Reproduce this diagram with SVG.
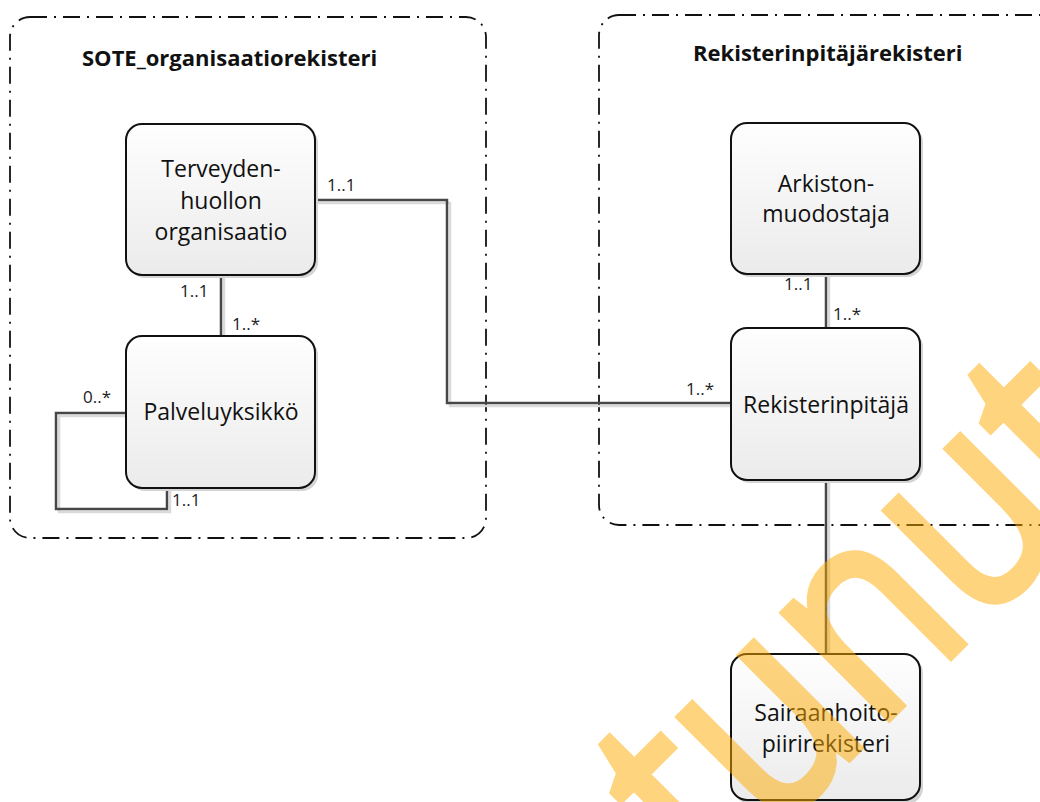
<svg xmlns="http://www.w3.org/2000/svg" width="1040" height="802" viewBox="0 0 1040 802">
  <defs>
    <linearGradient id="nodeFill" x1="0" y1="0" x2="0" y2="1">
      <stop offset="0" stop-color="#fefefe"/>
      <stop offset="1" stop-color="#ebebeb"/>
    </linearGradient>
    <style>
      .container { fill: none; stroke: #111; stroke-width: 1.8; stroke-dasharray: 17 7 2 7; }
      .title { font-family: "Open Sans", "Liberation Sans", sans-serif; font-weight: bold; font-size: 22px; fill: #111; }
      .shadow { fill: #d4d4d4; }
      .box { fill: url(#nodeFill); stroke: #111; stroke-width: 2; }
      .label { font-family: "Open Sans", "Liberation Sans", sans-serif; font-size: 23px; fill: #111; text-anchor: middle; }
      .conn { fill: none; stroke: #474747; stroke-width: 2.5; }
      .connShadow { fill: none; stroke: #dadada; stroke-width: 2.5; }
      .mult { font-family: "Open Sans", "Liberation Sans", sans-serif; font-size: 17px; fill: #222; }
      .watermark { font-family: "Open Sans", "Liberation Sans", sans-serif; font-size: 280px; fill: #ffaa00; stroke: #ffaa00; stroke-width: 7; text-anchor: end; }
    </style>
  </defs>
  <rect width="1040" height="802" fill="#ffffff"/>

  <g id="container-sote">
    <rect class="container" x="10" y="17" width="476" height="521" rx="20" ry="20"/>
    <text class="title" x="82" y="66">SOTE_organisaatiorekisteri</text>
  </g>
  <g id="container-rekisterinpitaja">
    <rect class="container" x="599" y="15" width="520" height="510" rx="20" ry="20"/>
    <text class="title" x="693" y="61">Rekisterinpitäjärekisteri</text>
  </g>

  <g id="connectors">
    <path class="connShadow" d="M317,203 H450 V406 H733"/>
    <path class="connShadow" d="M224,277 V338"/>
    <path class="connShadow" d="M128,416 H59 V512 H170 V490"/>
    <path class="connShadow" d="M829,276 V330"/>
    <path class="connShadow" d="M829,482 V656"/>
    <path class="conn" d="M315,200 H447 V403 H731"/>
    <path class="conn" d="M221,275 V336"/>
    <path class="conn" d="M126,413 H56 V509 H167 V488"/>
    <path class="conn" d="M826,274 V328"/>
    <path class="conn" d="M826,480 V654"/>
    <text class="mult" x="327" y="191">1..1</text>
    <text class="mult" x="686" y="395">1..*</text>
    <text class="mult" x="180" y="297">1..1</text>
    <text class="mult" x="232" y="330">1..*</text>
    <text class="mult" x="83" y="403">0..*</text>
    <text class="mult" x="172" y="506">1..1</text>
    <text class="mult" x="784" y="290">1..1</text>
    <text class="mult" x="833" y="320">1..*</text>
  </g>

  <g id="node-terveydenhuollon-organisaatio">
    <rect class="shadow" x="129" y="127" width="189" height="151" rx="16"/>
    <rect class="box" x="126" y="124" width="189" height="151" rx="16"/>
    <text class="label" x="221" y="177">Terveyden-</text>
    <text class="label" x="221" y="209">huollon</text>
    <text class="label" x="221" y="240">organisaatio</text>
  </g>
  <g id="node-palveluyksikko">
    <rect class="shadow" x="129" y="339" width="189" height="152" rx="16"/>
    <rect class="box" x="126" y="336" width="189" height="152" rx="16"/>
    <text class="label" x="221" y="420">Palveluyksikkö</text>
  </g>
  <g id="node-arkistonmuodostaja">
    <rect class="shadow" x="734" y="126" width="189" height="151" rx="16"/>
    <rect class="box" x="731" y="123" width="189" height="151" rx="16"/>
    <text class="label" x="826" y="192">Arkiston-</text>
    <text class="label" x="826" y="222">muodostaja</text>
  </g>
  <g id="node-rekisterinpitaja">
    <rect class="shadow" x="734" y="331" width="189" height="152" rx="16"/>
    <rect class="box" x="731" y="328" width="189" height="152" rx="16"/>
    <text class="label" x="826" y="413">Rekisterinpitäjä</text>
  </g>
  <g id="node-sairaanhoitopiirirekisteri">
    <rect class="shadow" x="734" y="657" width="189" height="147" rx="16"/>
    <rect class="box" x="731" y="654" width="189" height="146" rx="16"/>
    <text class="label" x="826" y="721">Sairaanhoito-</text>
    <text class="label" x="826" y="752">piirirekisteri</text>
  </g>

  <g opacity="0.5">
    <text class="watermark" transform="translate(1141,467) rotate(-45) scale(0.85,1)">tunut</text>
  </g>
</svg>
